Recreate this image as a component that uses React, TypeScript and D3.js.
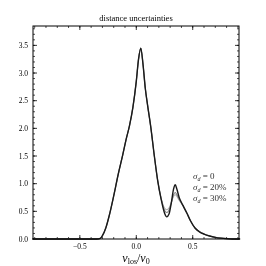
import * as d3 from "d3";

const W = 266;
const H = 266;
const M = { top: 26, right: 27, bottom: 27, left: 33 };

// velocity grid (v_los / v0)
const xs = [
  -0.92, -0.35, -0.32, -0.3, -0.27, -0.24, -0.2, -0.16, -0.12, -0.09, -0.06, -0.03, 0.0, 0.02,
  0.04, 0.06, 0.08, 0.1, 0.13, 0.16, 0.19, 0.22, 0.25, 0.27, 0.29, 0.31, 0.33, 0.345, 0.36,
  0.38, 0.4, 0.42, 0.45, 0.48, 0.52, 0.56, 0.6, 0.65, 0.7, 0.75, 0.8, 0.85, 0.92,
];

const sigma0 = [
  0, 0, 0.01, 0.06, 0.2, 0.42, 0.78, 1.17, 1.52, 1.8, 2.05, 2.38, 2.85, 3.25,
  3.45, 3.15, 2.72, 2.42, 2.0, 1.5, 1.05, 0.72, 0.47, 0.4, 0.45, 0.65, 0.9, 0.98, 0.9,
  0.75, 0.66, 0.58, 0.46, 0.33, 0.2, 0.13, 0.09, 0.055, 0.03, 0.015, 0.006, 0.001, 0,
];

const sigma20 = [
  0, 0, 0.01, 0.06, 0.2, 0.42, 0.78, 1.17, 1.52, 1.8, 2.05, 2.38, 2.85, 3.25,
  3.45, 3.15, 2.72, 2.42, 2.0, 1.5, 1.05, 0.73, 0.52, 0.48, 0.52, 0.65, 0.8, 0.84, 0.8,
  0.72, 0.65, 0.58, 0.46, 0.33, 0.2, 0.13, 0.09, 0.055, 0.03, 0.015, 0.006, 0.001, 0,
];

const sigma30 = [
  0, 0, 0.01, 0.06, 0.2, 0.42, 0.78, 1.17, 1.52, 1.8, 2.05, 2.38, 2.85, 3.25,
  3.45, 3.15, 2.72, 2.42, 2.0, 1.5, 1.05, 0.74, 0.56, 0.53, 0.56, 0.66, 0.77, 0.8, 0.77,
  0.7, 0.64, 0.58, 0.46, 0.33, 0.2, 0.13, 0.09, 0.055, 0.03, 0.015, 0.006, 0.001, 0,
];

const xTicks = [-0.5, 0, 0.5];
const yTicks = [0, 0.5, 1, 1.5, 2, 2.5, 3, 3.5];
const legend = ["0", "20%", "30%"];

const FONT = "'Liberation Serif', 'DejaVu Serif', serif";

export default function App() {
  const x = d3.scaleLinear().domain([-0.915, 0.91]).range([M.left, W - M.right]);
  const y = d3.scaleLinear().domain([0, 3.85]).range([H - M.bottom, M.top]);

  const line = d3
    .line<number>()
    .x((_, i) => x(xs[i]))
    .y((d) => y(d))
    .curve(d3.curveMonotoneX);

  const xMinor = d3.range(-9, 10).map((i) => i / 10);
  const yMinor = d3.range(0, 39).map((i) => i / 10);

  const x0 = M.left;
  const x1 = W - M.right;
  const y0 = H - M.bottom;
  const y1 = M.top;

  return (
    <div style={{ position: "fixed", left: 0, top: 0, opacity: 0.995 }}>
      <svg width={W} height={H} style={{ display: "block" }}>
        <text x={(x0 + x1) / 2} y={21} fontSize={8.5} fontFamily={FONT} textAnchor="middle">
          distance uncertainties
        </text>

        {/* minor ticks */}
        {xMinor.map((v) => (
          <g key={"xm" + v} stroke="#000" strokeWidth={0.7}>
            <line x1={x(v)} x2={x(v)} y1={y0} y2={y0 - 2} />
            <line x1={x(v)} x2={x(v)} y1={y1} y2={y1 + 2} />
          </g>
        ))}
        {yMinor.map((v) => (
          <g key={"ym" + v} stroke="#000" strokeWidth={0.7}>
            <line x1={x0} x2={x0 + 2} y1={y(v)} y2={y(v)} />
            <line x1={x1} x2={x1 - 2} y1={y(v)} y2={y(v)} />
          </g>
        ))}

        {/* major ticks */}
        {xTicks.map((v) => (
          <g key={"x" + v}>
            <line x1={x(v)} x2={x(v)} y1={y0} y2={y0 - 4} stroke="#000" strokeWidth={0.8} />
            <line x1={x(v)} x2={x(v)} y1={y1} y2={y1 + 4} stroke="#000" strokeWidth={0.8} />
            <text x={x(v)} y={y0 + 10} fontSize={7.5} fontFamily={FONT} textAnchor="middle">
              {v < 0 ? "\u2212" + Math.abs(v).toFixed(1) : v.toFixed(1)}
            </text>
          </g>
        ))}
        {yTicks.map((v) => (
          <g key={"y" + v}>
            <line x1={x0} x2={x0 + 4} y1={y(v)} y2={y(v)} stroke="#000" strokeWidth={0.8} />
            <line x1={x1} x2={x1 - 4} y1={y(v)} y2={y(v)} stroke="#000" strokeWidth={0.8} />
            <text x={x0 - 5} y={y(v) + 2.6} fontSize={7.5} fontFamily={FONT} textAnchor="end">
              {v.toFixed(1)}
            </text>
          </g>
        ))}

        <path d={line(sigma30) ?? ""} fill="none" stroke="#b0b0b0" strokeWidth={1.1} />
        <path d={line(sigma20) ?? ""} fill="none" stroke="#808080" strokeWidth={1.1} />
        <path d={line(sigma0) ?? ""} fill="none" stroke="#1a1a1a" strokeWidth={1.4} />

        <rect x={x0} y={y1} width={x1 - x0} height={y0 - y1} fill="none" stroke="#000" strokeWidth={1} />

        {legend.map((s, i) => (
          <text key={s} x={193} y={179 + i * 11} fontSize={9} fontFamily={FONT} fill="#333">
            <tspan fontStyle="italic">σ</tspan>
            <tspan fontStyle="italic" fontSize={6} dy={1.5}>d</tspan>
            <tspan dy={-1.5}>{" = " + s}</tspan>
          </text>
        ))}

        <text x={(x0 + x1) / 2} y={262} fontSize={12} fontFamily={FONT} textAnchor="middle">
          <tspan fontStyle="italic">v</tspan>
          <tspan fontSize={8} dy={2}>los</tspan>
          <tspan dy={-2}>/</tspan>
          <tspan fontStyle="italic">v</tspan>
          <tspan fontSize={8} dy={2}>0</tspan>
        </text>
      </svg>
    </div>
  );
}
